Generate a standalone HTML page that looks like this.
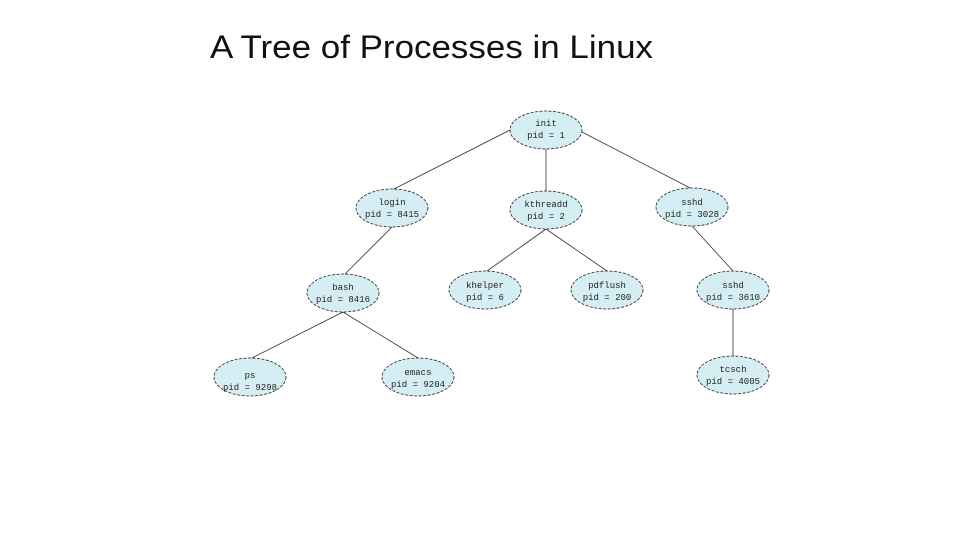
<!DOCTYPE html>
<html><head><meta charset="utf-8"><style>
html,body{margin:0;padding:0;background:#fff;}
</style></head><body>
<svg width="960" height="540" xmlns="http://www.w3.org/2000/svg" font-family="Liberation Mono, monospace">
<text x="210" y="58" font-family="Liberation Sans, sans-serif" font-size="32" fill="#111" textLength="443" lengthAdjust="spacingAndGlyphs">A Tree of Processes in Linux</text>
<g stroke="#333" stroke-width="0.8">
<line x1="510" y1="130" x2="392" y2="190"/>
<line x1="546" y1="148" x2="546" y2="191"/>
<line x1="582" y1="132" x2="692" y2="189"/>
<line x1="392" y1="227" x2="345" y2="274"/>
<line x1="546" y1="229" x2="487" y2="271"/>
<line x1="546" y1="229" x2="607" y2="271"/>
<line x1="692" y1="226" x2="733" y2="271"/>
<line x1="343" y1="312" x2="252" y2="358"/>
<line x1="343" y1="312" x2="418" y2="358"/>
<line x1="733" y1="309" x2="733" y2="356"/>
</g>
<g fill="#d5eef3" stroke="#222" stroke-width="0.8" stroke-dasharray="3,1.5">
<ellipse cx="546" cy="130" rx="36" ry="19"/>
<ellipse cx="392" cy="208" rx="36" ry="19"/>
<ellipse cx="546" cy="210" rx="36" ry="19"/>
<ellipse cx="692" cy="207" rx="36" ry="19"/>
<ellipse cx="343" cy="293" rx="36" ry="19"/>
<ellipse cx="485" cy="290" rx="36" ry="19"/>
<ellipse cx="607" cy="290" rx="36" ry="19"/>
<ellipse cx="733" cy="290" rx="36" ry="19"/>
<ellipse cx="250" cy="377" rx="36" ry="19"/>
<ellipse cx="418" cy="377" rx="36" ry="19"/>
<ellipse cx="733" cy="375" rx="36" ry="19"/>
</g>
<g font-size="9" fill="#222" text-anchor="middle">
<text x="546" y="126">init</text><text x="546" y="138">pid = 1</text>
<text x="392" y="205">login</text><text x="392" y="217">pid = 8415</text>
<text x="546" y="207">kthreadd</text><text x="546" y="219">pid = 2</text>
<text x="692" y="205">sshd</text><text x="692" y="217">pid = 3028</text>
<text x="343" y="290">bash</text><text x="343" y="302">pid = 8416</text>
<text x="485" y="288">khelper</text><text x="485" y="300">pid = 6</text>
<text x="607" y="288">pdflush</text><text x="607" y="300">pid = 200</text>
<text x="733" y="288">sshd</text><text x="733" y="300">pid = 3610</text>
<text x="250" y="378">ps</text><text x="250" y="390">pid = 9298</text>
<text x="418" y="375">emacs</text><text x="418" y="387">pid = 9204</text>
<text x="733" y="372">tcsch</text><text x="733" y="384">pid = 4005</text>
</g>
</svg>
</body></html>
